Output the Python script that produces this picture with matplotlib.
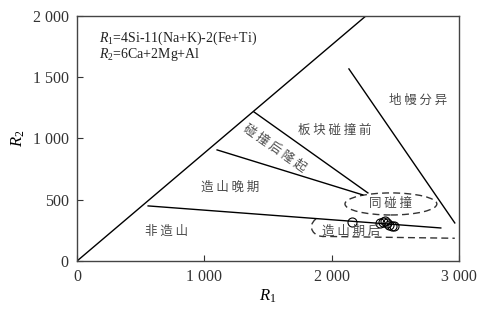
import matplotlib
matplotlib.use('Agg')
import matplotlib.pyplot as plt
import matplotlib.ticker as ticker
from matplotlib.patches import Ellipse, PathPatch
from matplotlib.path import Path

# R1-R2 discrimination diagram, boundary lines (R1, R2)
diag_line = [(0, 0), (2270, 2000)]
syncoll_upper = [(1390, 1216), (2285, 555)]
late_orog_line = [(1100, 906), (2245, 539)]
anorog_line = [(558, 449), (2858, 269)]
mantle_line = [(2136, 1567), (2968, 310)]

# dashed field outlines
syncoll_center = (2466, 465)
syncoll_size = (722, 180)
postorog_outline = [(1877, 343), (1800, 280), (1860, 190), (1948, 200), (2968, 185)]

# samples
r1 = [2157, 2379, 2401, 2419, 2437, 2452, 2471, 2490]
r2 = [321, 308, 321, 327, 308, 294, 288, 286]

field_names = ["地 幔 分 异", "板 块 碰 撞 前", "碰 撞 后 隆 起", "造 山 晚 期",
               "非 造 山", "同 碰 撞", "造 山 期 后"]
field_pos = [(2678, 1314), (2026, 1061), (1555, 925), (1201, 604),
             (699, 245), (2466, 465), (2152, 245)]
field_rot = [0, 0, -35, 0, 0, 0, 0]

plt.rcParams['font.family'] = ['Liberation Serif']
plt.rcParams['mathtext.fontset'] = 'custom'
plt.rcParams['mathtext.rm'] = 'Liberation Serif'
plt.rcParams['mathtext.it'] = 'Liberation Serif:italic'

fig = plt.figure(figsize=(4.82, 3.11), dpi=100)
ax = fig.add_axes([0.16, 0.161, 0.792, 0.788])

for seg in [diag_line, syncoll_upper, late_orog_line, anorog_line, mantle_line]:
    xs, ys = zip(*seg)
    ax.plot(xs, ys, color='black', lw=1.0)

ax.add_patch(Ellipse(syncoll_center, syncoll_size[0], syncoll_size[1], fill=False,
                     ls=(0, (5, 3)), lw=1.0, ec='#333333'))
verts = postorog_outline
codes = [Path.MOVETO, Path.CURVE4, Path.CURVE4, Path.CURVE4, Path.LINETO]
ax.add_patch(PathPatch(Path(verts, codes), fill=False, ls=(0, (5, 3)), lw=1.0, ec='#333333'))

ax.plot(r1, r2, 'o', mfc='none', mec='black', ms=6.5, mew=0.8)

cjk = ['Noto Sans CJK SC', 'DejaVu Sans']
for name, (px, py), rot in zip(field_names, field_pos, field_rot):
    ax.text(px, py, name, ha='center', va='center', fontsize=9, color='#4a4a4a',
            family=cjk, rotation=rot, rotation_mode='anchor')

ax.text(0.057, 0.91, '$R_1$=4Si-11(Na+K)-2(Fe+Ti)', transform=ax.transAxes, fontsize=10,
        va='center', ha='left', color='#222222')
ax.text(0.057, 0.843, '$R_2$=6Ca+2Mg+Al', transform=ax.transAxes, fontsize=10,
        va='center', ha='left', color='#222222')

ax.set_xlim(0, 3000)
ax.set_ylim(0, 2000)
ax.set_xticks([0, 1000, 2000, 3000])
ax.set_yticks([0, 500, 1000, 1500, 2000])
fmt = ticker.FuncFormatter(lambda v, pos: '{:,}'.format(int(v)).replace(',', ' '))
ax.xaxis.set_major_formatter(fmt)
ax.yaxis.set_major_formatter(fmt)
ax.tick_params(direction='in', length=4, width=0.8, labelsize=11.5, pad=6, colors='#333333')

for sp in ax.spines.values():
    sp.set_color('#444444')
    sp.set_linewidth(1.0)

ax.set_xlabel('$R_1$', fontsize=12, labelpad=2)
ax.set_ylabel('$R_2$', fontsize=12, labelpad=4)

fig.savefig('out.png', dpi=100)
